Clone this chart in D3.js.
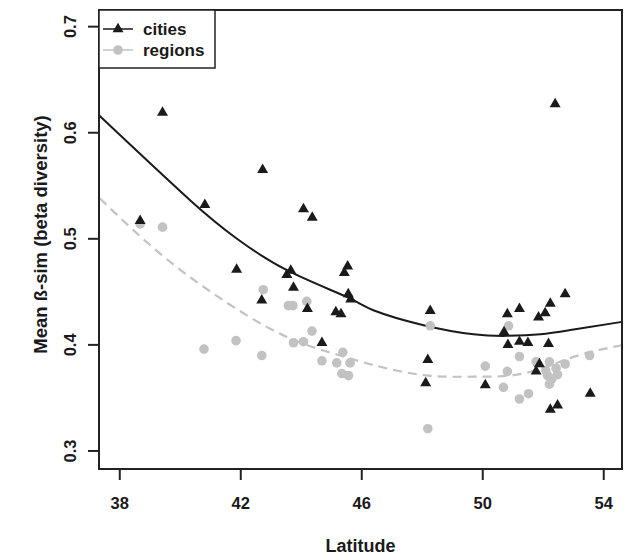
<!DOCTYPE html>
<html>
<head>
<meta charset="utf-8">
<script src="https://cdn.jsdelivr.net/npm/d3@7.9.0/dist/d3.min.js"></script>
<style>
  body { margin: 0; background: #fff; }
  svg { font-family: "Liberation Sans", Arial, sans-serif; font-weight: bold; }
</style>
</head>
<body>
<svg id="chart" width="624" height="556"></svg>
<script>
// cities: latitude / mean beta-sim
const cityLat = [38.69, 39.43, 40.83, 41.88, 42.74, 42.71, 43.54, 43.67, 43.76, 44.09,
  44.38, 44.22, 44.70, 45.16, 45.33, 45.44, 45.55, 45.57, 45.65, 48.28,
  48.20, 48.13, 50.10, 50.72, 50.83, 50.85, 51.23, 51.23, 51.51, 51.78,
  51.86, 51.89, 52.08, 52.19, 52.25, 52.25, 52.41, 52.49, 52.74, 53.57];
const cityBeta = [0.517, 0.619, 0.532, 0.471, 0.565, 0.442, 0.466, 0.470, 0.454, 0.528,
  0.520, 0.434, 0.402, 0.431, 0.429, 0.468, 0.474, 0.448, 0.443, 0.432,
  0.386, 0.364, 0.362, 0.412, 0.429, 0.400, 0.434, 0.403, 0.402, 0.375,
  0.426, 0.382, 0.430, 0.401, 0.439, 0.339, 0.627, 0.343, 0.448, 0.354];

// regions
const regionLat = [38.69, 39.43, 40.80, 41.86, 42.76, 42.71, 43.59, 43.74, 43.76, 44.09,
  44.20, 44.37, 44.70, 45.19, 45.39, 45.63, 45.36, 45.58, 48.28, 48.20,
  50.10, 50.70, 50.83, 50.87, 51.23, 51.23, 51.53, 51.78, 52.16, 52.22,
  52.22, 52.44, 52.49, 52.74, 53.55, 52.30, 52.10];
const regionBeta = [0.514, 0.511, 0.396, 0.404, 0.452, 0.390, 0.437, 0.437, 0.402, 0.403,
  0.441, 0.413, 0.385, 0.383, 0.393, 0.383, 0.373, 0.371, 0.418, 0.321,
  0.380, 0.360, 0.375, 0.418, 0.389, 0.349, 0.354, 0.384, 0.371, 0.384,
  0.363, 0.378, 0.372, 0.382, 0.390, 0.368, 0.376];

// fitted curves
const cityFitLat = [37.33, 40.34, 41.88, 43.54, 45.52, 46.4, 48.06, 49.71, 50.81, 51.92, 53.02, 54.62];
const cityFitBeta = [0.6164, 0.5364, 0.5003, 0.4704, 0.4452, 0.4327, 0.4186, 0.410, 0.4085, 0.410, 0.4145, 0.4217];
const regionFitLat = [37.36, 39.35, 41.44, 43.54, 45.3, 46.4, 48.06, 49.71, 51.36, 53.02, 54.62];
const regionFitBeta = [0.538, 0.486, 0.442, 0.4075, 0.390, 0.381, 0.3715, 0.370, 0.373, 0.3887, 0.3997];

const xTicks = [38, 42, 46, 50, 54];
const yTicks = [0.3, 0.4, 0.5, 0.6, 0.7];

const plotLeft = 99, plotRight = 622, plotTop = 10, plotBottom = 469;
const svg = d3.select('#chart');

const x = d3.scaleLinear().domain([37.33, 54.62]).range([plotLeft, plotRight]);
const y = d3.scaleLinear().domain([0.283, 0.7157]).range([plotBottom, plotTop]);

const ink = '#1a1a1a';
const grey = '#c2c2c2';

// fit lines
const line = d3.line().x(d => x(d[0])).y(d => y(d[1])).curve(d3.curveNatural);
svg.append('path')
  .attr('d', line(d3.zip(regionFitLat, regionFitBeta)))
  .attr('fill', 'none').attr('stroke', grey).attr('stroke-width', 2.2)
  .attr('stroke-dasharray', '9,6');
svg.append('path')
  .attr('d', line(d3.zip(cityFitLat, cityFitBeta)))
  .attr('fill', 'none').attr('stroke', ink).attr('stroke-width', 2);

// points
svg.append('g').selectAll('circle')
  .data(d3.zip(regionLat, regionBeta))
  .join('circle')
  .attr('cx', d => x(d[0])).attr('cy', d => y(d[1]))
  .attr('r', 4.8).attr('fill', grey);

const tri = d3.symbol().type(d3.symbolTriangle).size(52);
svg.append('g').selectAll('path')
  .data(d3.zip(cityLat, cityBeta))
  .join('path')
  .attr('d', tri)
  .attr('transform', d => `translate(${x(d[0])},${y(d[1])})`)
  .attr('fill', ink);

// box
svg.append('rect')
  .attr('x', plotLeft).attr('y', plotTop)
  .attr('width', plotRight - plotLeft).attr('height', plotBottom - plotTop)
  .attr('fill', 'none').attr('stroke', '#222').attr('stroke-width', 2);

// axes
const xAxis = svg.append('g')
  .attr('transform', `translate(0,${plotBottom})`)
  .call(d3.axisBottom(x).tickValues(xTicks).tickSize(11).tickPadding(17).tickFormat(d3.format('d')));
const yAxis = svg.append('g')
  .attr('transform', `translate(${plotLeft},0)`)
  .call(d3.axisLeft(y).tickValues(yTicks).tickSize(11).tickFormat(d3.format('.1f')));

[xAxis, yAxis].forEach(g => {
  g.select('.domain').remove();
  g.selectAll('line').attr('stroke', '#222').attr('stroke-width', 2);
  g.selectAll('text').attr('fill', ink).style('font-size', '16.5px').style('font-weight', 'bold')
    .style('font-family', '"Liberation Sans", Arial, sans-serif');
});

// y tick labels are rotated, as in base R
yAxis.selectAll('.tick').attr('transform', null);
yAxis.selectAll('.tick line')
  .attr('y1', d => y(d)).attr('y2', d => y(d));
yAxis.selectAll('.tick text')
  .attr('x', null).attr('y', null).attr('dy', null)
  .attr('text-anchor', 'middle')
  .attr('transform', d => `translate(${70 - plotLeft},${y(d)}) rotate(-90) translate(0,6)`);

// axis titles
svg.append('text')
  .attr('x', (plotLeft + plotRight) / 2).attr('y', 552)
  .attr('text-anchor', 'middle')
  .attr('fill', ink).style('font-size', '18px')
  .text('Latitude');

svg.append('text')
  .attr('transform', `translate(47,${(plotTop + plotBottom) / 2 - 5}) rotate(-90)`)
  .attr('text-anchor', 'middle')
  .attr('fill', ink).style('font-size', '18.5px')
  .text('Mean ß-sim (beta diversity)');

// legend
const legend = svg.append('g');
legend.append('rect')
  .attr('x', plotLeft).attr('y', plotTop).attr('width', 116).attr('height', 58)
  .attr('fill', '#fff').attr('stroke', '#222').attr('stroke-width', 1.5);

const legendItems = [
  { label: 'cities', color: ink, shape: 'tri', dy: 29 },
  { label: 'regions', color: grey, shape: 'dot', dy: 50 }
];
legendItems.forEach(item => {
  const ly = plotTop + item.dy - 10;
  legend.append('line')
    .attr('x1', 103).attr('x2', 133).attr('y1', ly).attr('y2', ly)
    .attr('stroke', item.color).attr('stroke-width', 1.5);
  if (item.shape === 'tri') {
    legend.append('path').attr('d', tri)
      .attr('transform', `translate(118,${ly})`).attr('fill', item.color);
  } else {
    legend.append('circle').attr('cx', 118).attr('cy', ly).attr('r', 4.8).attr('fill', item.color);
  }
  legend.append('text')
    .attr('x', 143).attr('y', ly + 6)
    .attr('fill', ink).style('font-size', '17px')
    .text(item.label);
});
</script>
</body>
</html>
